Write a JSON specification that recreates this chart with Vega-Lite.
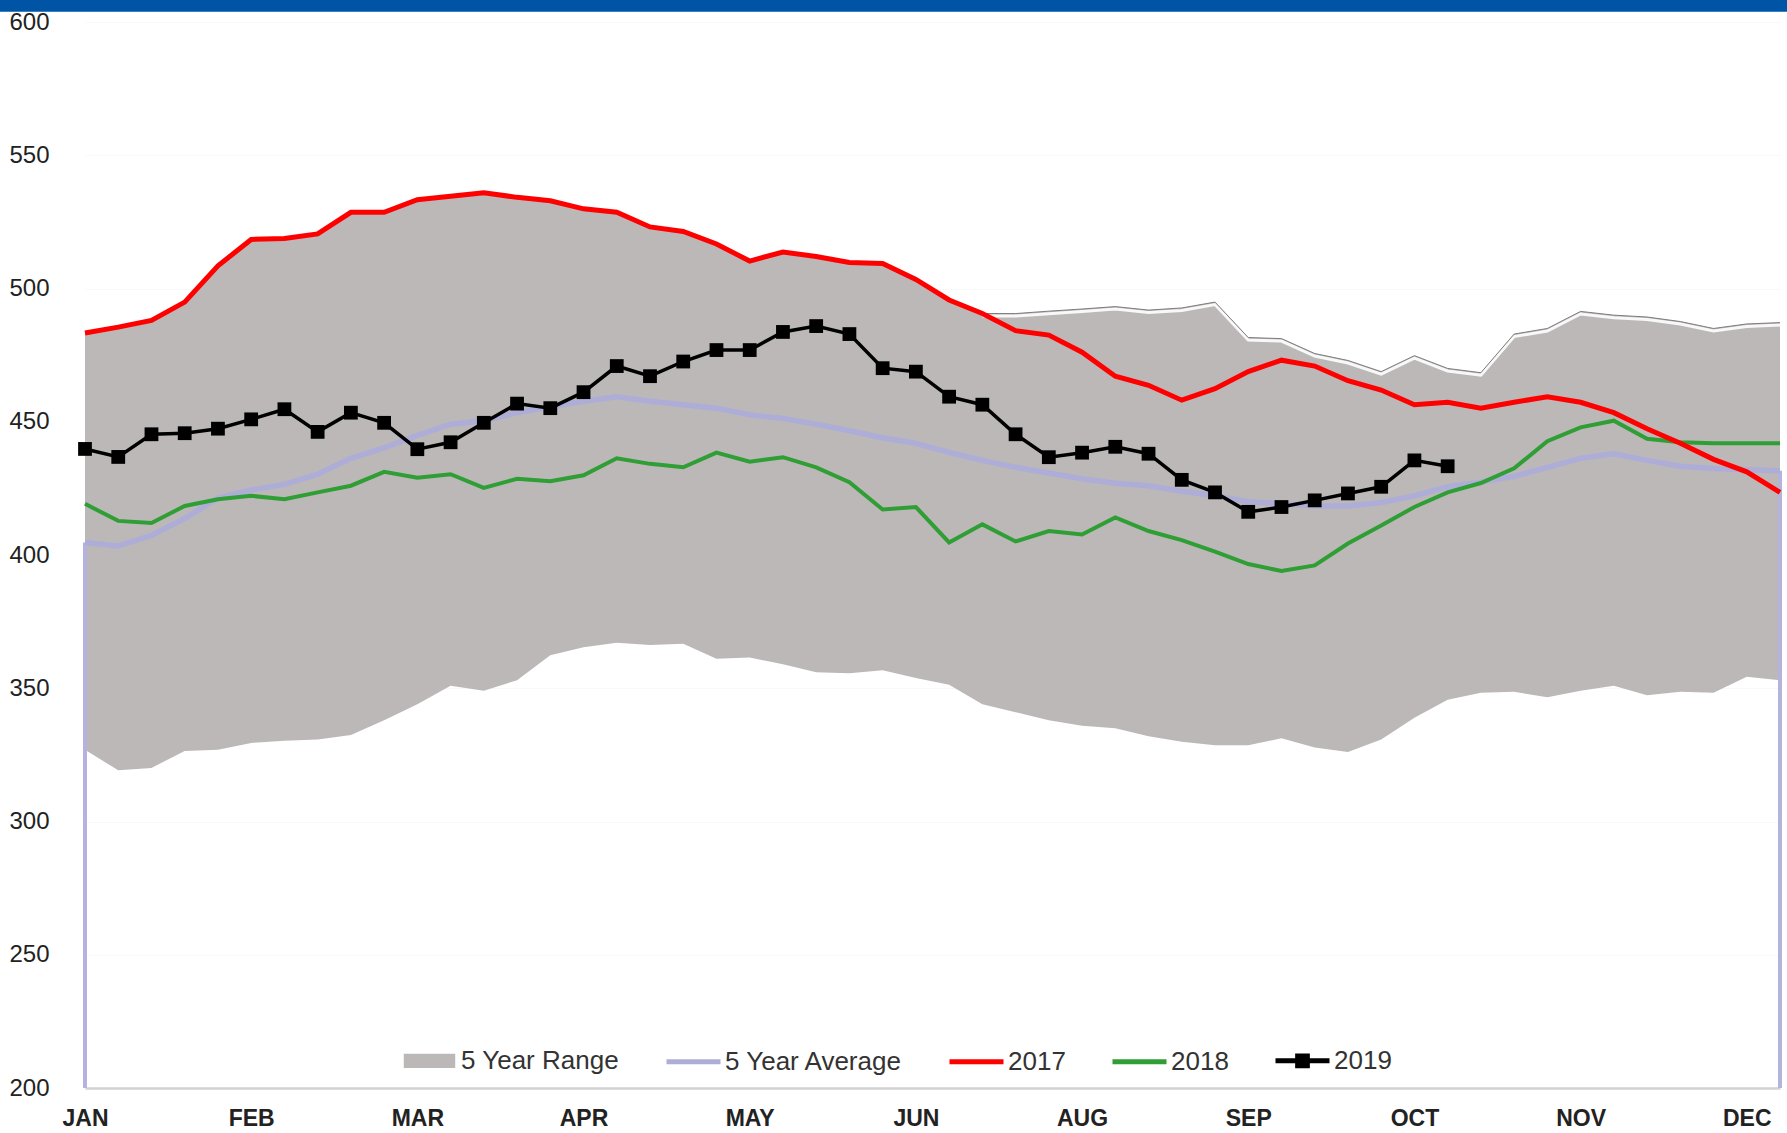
{
  "$schema": "https://vega.github.io/schema/vega-lite/v6.json",
  "autosize": "none",
  "width": 1695,
  "height": 1066,
  "padding": {"left": 85, "top": 22, "right": 7, "bottom": 45},
  "background": "#ffffff",
  "config": {
    "view": {"stroke": null},
    "axis": {"labelFont": "Liberation Sans", "labelColor": "#222222", "ticks": false, "title": null}
  },
  "datasets": {
    "banner": [{"x0": -3, "x1": 52, "y0": 603.8, "y1": 615}],
    "weekly": [
      {"week": 0, "lo": 326.9, "hi": 483.3, "avg": 404.7, "y2017": 483.3, "y2018": 419.2, "y2019": 439.8},
      {"week": 1, "lo": 319.2, "hi": 485.5, "avg": 403.4, "y2017": 485.5, "y2018": 412.8, "y2019": 436.8},
      {"week": 2, "lo": 320.1, "hi": 488.0, "avg": 407.3, "y2017": 488.0, "y2018": 412.0, "y2019": 445.3},
      {"week": 3, "lo": 326.5, "hi": 494.9, "avg": 413.7, "y2017": 494.9, "y2018": 418.4, "y2019": 445.7},
      {"week": 4, "lo": 326.9, "hi": 508.5, "avg": 421.4, "y2017": 508.5, "y2018": 420.9, "y2019": 447.4},
      {"week": 5, "lo": 329.5, "hi": 518.4, "avg": 424.4, "y2017": 518.4, "y2018": 422.2, "y2019": 450.9},
      {"week": 6, "lo": 330.3, "hi": 518.8, "avg": 426.5, "y2017": 518.8, "y2018": 420.9, "y2019": 454.7},
      {"week": 7, "lo": 330.8, "hi": 520.5, "avg": 430.3, "y2017": 520.5, "y2018": 423.5, "y2019": 446.2},
      {"week": 8, "lo": 332.5, "hi": 528.6, "avg": 436.3, "y2017": 528.6, "y2018": 426.0, "y2019": 453.4},
      {"week": 9, "lo": 338.0, "hi": 528.6, "avg": 440.2, "y2017": 528.6, "y2018": 431.2, "y2019": 449.6},
      {"week": 10, "lo": 344.0, "hi": 533.3, "avg": 444.9, "y2017": 533.3, "y2018": 429.0, "y2019": 439.7},
      {"week": 11, "lo": 350.9, "hi": 534.6, "avg": 449.1, "y2017": 534.6, "y2018": 430.3, "y2019": 442.3},
      {"week": 12, "lo": 349.1, "hi": 535.9, "avg": 450.4, "y2017": 535.9, "y2018": 425.2, "y2019": 449.6},
      {"week": 13, "lo": 353.0, "hi": 534.2, "avg": 453.4, "y2017": 534.2, "y2018": 428.6, "y2019": 456.8},
      {"week": 14, "lo": 362.4, "hi": 532.9, "avg": 455.6, "y2017": 532.9, "y2018": 427.7, "y2019": 455.1},
      {"week": 15, "lo": 365.4, "hi": 529.9, "avg": 457.7, "y2017": 529.9, "y2018": 429.9, "y2019": 461.1},
      {"week": 16, "lo": 367.1, "hi": 528.6, "avg": 459.4, "y2017": 528.6, "y2018": 436.3, "y2019": 470.9},
      {"week": 17, "lo": 366.2, "hi": 523.1, "avg": 457.7, "y2017": 523.1, "y2018": 434.2, "y2019": 467.1},
      {"week": 18, "lo": 366.7, "hi": 521.4, "avg": 456.4, "y2017": 521.4, "y2018": 432.9, "y2019": 472.6},
      {"week": 19, "lo": 361.1, "hi": 516.7, "avg": 455.1, "y2017": 516.7, "y2018": 438.4, "y2019": 476.9},
      {"week": 20, "lo": 361.5, "hi": 510.3, "avg": 452.6, "y2017": 510.3, "y2018": 435.0, "y2019": 476.9},
      {"week": 21, "lo": 359.0, "hi": 513.7, "avg": 451.2, "y2017": 513.7, "y2018": 436.7, "y2019": 483.7},
      {"week": 22, "lo": 356.0, "hi": 512.0, "avg": 449.1, "y2017": 512.0, "y2018": 432.9, "y2019": 485.9},
      {"week": 23, "lo": 355.6, "hi": 509.8, "avg": 446.6, "y2017": 509.8, "y2018": 427.3, "y2019": 482.9},
      {"week": 24, "lo": 356.8, "hi": 509.4, "avg": 444.0, "y2017": 509.4, "y2018": 417.1, "y2019": 470.1},
      {"week": 25, "lo": 353.8, "hi": 503.4, "avg": 441.9, "y2017": 503.4, "y2018": 418.0, "y2019": 468.8},
      {"week": 26, "lo": 351.3, "hi": 495.7, "avg": 438.5, "y2017": 495.7, "y2018": 404.7, "y2019": 459.4},
      {"week": 27, "lo": 344.0, "hi": 490.6, "avg": 435.5, "y2017": 490.6, "y2018": 411.5, "y2019": 456.4},
      {"week": 28, "lo": 341.0, "hi": 490.6, "avg": 432.9, "y2017": 484.2, "y2018": 405.1, "y2019": 445.3},
      {"week": 29, "lo": 338.0, "hi": 491.5, "avg": 430.8, "y2017": 482.5, "y2018": 409.0, "y2019": 436.7},
      {"week": 30, "lo": 335.9, "hi": 492.3, "avg": 428.6, "y2017": 476.1, "y2018": 407.7, "y2019": 438.4},
      {"week": 31, "lo": 335.0, "hi": 493.2, "avg": 426.9, "y2017": 467.1, "y2018": 414.1, "y2019": 440.6},
      {"week": 32, "lo": 332.0, "hi": 491.9, "avg": 426.0, "y2017": 463.7, "y2018": 409.0, "y2019": 438.0},
      {"week": 33, "lo": 329.9, "hi": 492.7, "avg": 423.9, "y2017": 458.1, "y2018": 405.6, "y2019": 428.2},
      {"week": 34, "lo": 328.6, "hi": 494.9, "avg": 422.2, "y2017": 462.4, "y2018": 401.3, "y2019": 423.5},
      {"week": 35, "lo": 328.6, "hi": 481.6, "avg": 420.0, "y2017": 468.8, "y2018": 396.6, "y2019": 416.2},
      {"week": 36, "lo": 331.2, "hi": 481.2, "avg": 419.2, "y2017": 473.1, "y2018": 394.0, "y2019": 418.0},
      {"week": 37, "lo": 327.8, "hi": 475.6, "avg": 418.4, "y2017": 470.9, "y2018": 396.1, "y2019": 420.5},
      {"week": 38, "lo": 326.1, "hi": 473.0, "avg": 418.4, "y2017": 465.4, "y2018": 404.3, "y2019": 423.1},
      {"week": 39, "lo": 330.8, "hi": 468.8, "avg": 419.7, "y2017": 461.9, "y2018": 411.1, "y2019": 425.6},
      {"week": 40, "lo": 338.9, "hi": 474.8, "avg": 422.2, "y2017": 456.4, "y2018": 418.0, "y2019": 435.5},
      {"week": 41, "lo": 345.7, "hi": 470.0, "avg": 425.6, "y2017": 457.3, "y2018": 423.5, "y2019": 433.3},
      {"week": 42, "lo": 348.3, "hi": 468.4, "avg": 427.4, "y2017": 455.1, "y2018": 427.0, "y2019": null},
      {"week": 43, "lo": 348.7, "hi": 482.9, "avg": 429.5, "y2017": 457.3, "y2018": 432.5, "y2019": null},
      {"week": 44, "lo": 346.6, "hi": 485.0, "avg": 432.9, "y2017": 459.4, "y2018": 442.7, "y2019": null},
      {"week": 45, "lo": 349.1, "hi": 491.4, "avg": 436.3, "y2017": 457.3, "y2018": 447.9, "y2019": null},
      {"week": 46, "lo": 350.9, "hi": 490.0, "avg": 438.0, "y2017": 453.4, "y2018": 450.4, "y2019": null},
      {"week": 47, "lo": 347.4, "hi": 489.3, "avg": 435.5, "y2017": 447.4, "y2018": 443.6, "y2019": null},
      {"week": 48, "lo": 348.7, "hi": 487.6, "avg": 433.3, "y2017": 441.9, "y2018": 442.3, "y2019": null},
      {"week": 49, "lo": 348.3, "hi": 485.0, "avg": 432.5, "y2017": 435.9, "y2018": 441.9, "y2019": null},
      {"week": 50, "lo": 354.3, "hi": 486.7, "avg": 432.0, "y2017": 431.2, "y2018": 441.9, "y2019": null},
      {"week": 51, "lo": 353.0, "hi": 487.2, "avg": 431.6, "y2017": 423.5, "y2018": 441.9, "y2019": null}
    ]
  },
  "data": {"name": "weekly"},
  "layer": [
    {
      "mark": {"type": "area", "opacity": 1},
      "encoding": {
        "x": {
          "field": "week", "type": "quantitative",
          "scale": {"domain": [0, 51], "nice": false, "zero": false},
          "axis": {
            "values": [0, 5, 10, 15, 20, 25, 30, 35, 40, 45, 50],
            "labelExpr": "['JAN','FEB','MAR','APR','MAY','JUN','AUG','SEP','OCT','NOV','DEC'][round(datum.value/5)]",
            "labelFontSize": 23, "labelFontWeight": "bold", "labelPadding": 19,
            "grid": false, "domainColor": "#d2d2d2", "domainWidth": 2.5,
            "labelFlush": false, "labelOverlap": false
          }
        },
        "y": {
          "field": "lo", "type": "quantitative",
          "scale": {"domain": [200, 600], "nice": false, "zero": false},
          "axis": {
            "values": [200, 250, 300, 350, 400, 450, 500, 550, 600],
            "labelFontSize": 24, "labelPadding": 36, "domain": false,
            "grid": true, "gridColor": "#f8f8f8", "gridWidth": 1
          }
        },
        "y2": {"field": "hi"},
        "color": {
          "datum": "5 Year Range",
          "scale": {
            "domain": ["5 Year Range", "5 Year Average", "2017", "2018", "2019"],
            "range": ["#bcb8b8", "#adadd8", "#ff0000", "#2f9e35", "#000000"]
          },
          "legend": {
            "title": null,
            "orient": "none",
            "legendX": 315,
            "legendY": 1009,
            "direction": "horizontal",
            "padding": 0,
            "labelFont": "Liberation Sans",
            "labelFontSize": 26,
            "labelColor": "#333333",
            "labelLimit": 0,
            "labelOffset": 2,
            "columnPadding": 36,
            "symbolSize": 2916,
            "symbolStrokeWidth": 5,
            "symbolOpacity": 1,
            "symbolType": {"expr": "datum.value === '5 Year Range' ? 'M-0.86,-0.17L0.86,-0.17L0.86,0.17L-0.86,0.17Z' : (datum.value === '2019' ? 'M-1,0L1,0M-0.18,-0.18L0.18,-0.18L0.18,0.18L-0.18,0.18Z' : 'stroke')"}
          }
        }
      }
    },
    {
      "data": {"name": "banner"},
      "mark": {"type": "rect", "color": "#0054a6", "clip": false},
      "encoding": {
        "x": {"field": "x0", "type": "quantitative"},
        "x2": {"field": "x1"},
        "y": {"field": "y0", "type": "quantitative"},
        "y2": {"field": "y1"}
      }
    },
    {
      "transform": [{"filter": "datum.week >= 27"}],
      "mark": {"type": "line", "color": "#ffffff", "strokeWidth": 3, "yOffset": 2.5, "opacity": 0.9},
      "encoding": {"x": {"field": "week", "type": "quantitative"}, "y": {"field": "hi", "type": "quantitative"}}
    },
    {
      "transform": [{"filter": "datum.week >= 27"}],
      "mark": {"type": "line", "color": "#7d7d7d", "strokeWidth": 1},
      "encoding": {"x": {"field": "week", "type": "quantitative"}, "y": {"field": "hi", "type": "quantitative"}}
    },
    {
      "transform": [{"filter": "datum.week == 0 || datum.week == 51"}],
      "mark": {"type": "rule", "color": "#b3b3dd", "strokeWidth": 4},
      "encoding": {
        "x": {"field": "week", "type": "quantitative"},
        "y": {"field": "avg", "type": "quantitative"},
        "y2": {"datum": 200}
      }
    },
    {
      "mark": {"type": "line", "strokeWidth": 5.5},
      "encoding": {
        "x": {"field": "week", "type": "quantitative"},
        "y": {"field": "avg", "type": "quantitative"},
        "color": {"datum": "5 Year Average"}
      }
    },
    {
      "mark": {"type": "line", "strokeWidth": 4},
      "encoding": {
        "x": {"field": "week", "type": "quantitative"},
        "y": {"field": "y2018", "type": "quantitative"},
        "color": {"datum": "2018"}
      }
    },
    {
      "mark": {"type": "line", "strokeWidth": 5},
      "encoding": {
        "x": {"field": "week", "type": "quantitative"},
        "y": {"field": "y2017", "type": "quantitative"},
        "color": {"datum": "2017"}
      }
    },
    {
      "mark": {"type": "line", "strokeWidth": 3.5, "point": {"shape": "square", "size": 190, "filled": true, "color": "#000000", "opacity": 1}},
      "encoding": {
        "x": {"field": "week", "type": "quantitative"},
        "y": {"field": "y2019", "type": "quantitative"},
        "color": {"datum": "2019"}
      }
    }
  ]
}
